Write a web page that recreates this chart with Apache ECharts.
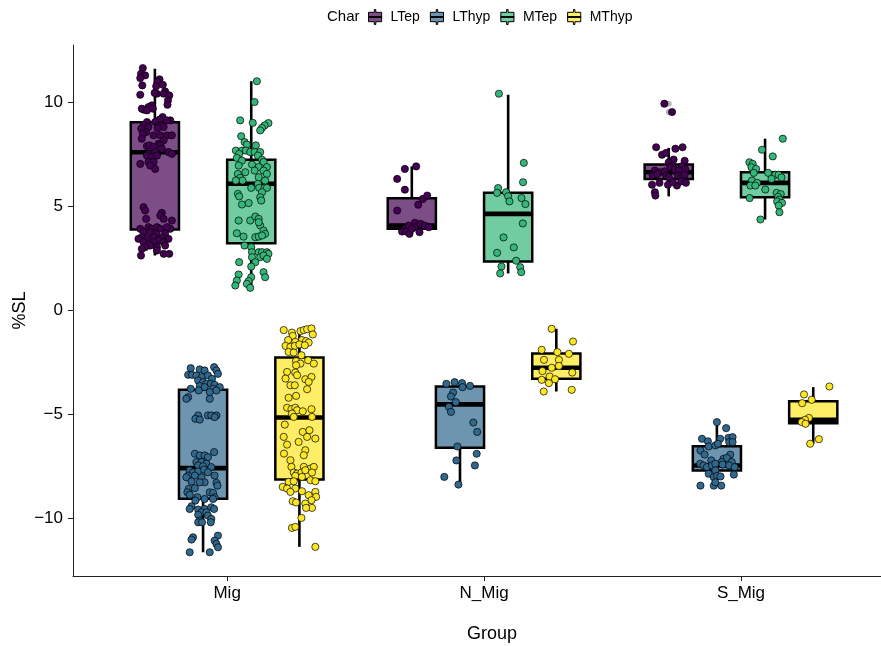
<!DOCTYPE html>
<html>
<head>
<meta charset="utf-8">
<script src="https://cdn.jsdelivr.net/npm/echarts@6/dist/echarts.min.js"></script>
<style>
html,body{margin:0;padding:0;background:#fff;}
#chart{width:881px;height:646px;}
</style>
</head>
<body>
<div id="chart"></div>
<script>
// ---------------- DATA ----------------
const groups = ['Mig', 'N_Mig', 'S_Mig'];
const chars = ['LTep', 'LThyp', 'MTep', 'MThyp'];
const yTicks = [-10, -5, 0, 5, 10];

// box statistics per group: [lower whisker, Q1, median, Q3, upper whisker]
const boxLTep  = [[2.64, 3.89, 7.60, 9.04, 11.61], [3.68, 3.92, 4.08, 5.39, 6.92], [5.48, 6.32, 6.64, 7.01, 7.81]];
const boxLThyp = [[-11.61, -9.04, -7.57, -3.81, -2.72], [-8.36, -6.59, -4.51, -3.65, -3.44], [-8.41, -7.68, -7.44, -6.52, -5.36]];
const boxMTep  = [[1.0, 3.23, 6.09, 7.24, 11.01], [1.78, 2.35, 4.64, 5.65, 10.36], [4.37, 5.44, 6.13, 6.64, 8.25]];
const boxMThyp = [[-11.35, -8.12, -5.14, -2.26, -0.86], [-3.89, -3.28, -2.75, -2.07, -0.88], [-6.40, -5.41, -5.25, -4.36, -3.68]];

// outliers drawn by the boxplot layer: [groupIndex, value]
const outLTep = [[2, 9.93], [2, 9.53]];

// jittered observations: [jitter (category units), %SL]
const ptsMigLTep = [[-0.047,11.64],[-0.054,11.37],[-0.038,11.29],[-0.057,11.16],[-0.049,10.81],[0.018,11.10],[0.010,10.97],[0.005,10.77],[0.031,10.84],[0.040,10.52],[0.034,10.41],[0.056,10.33],[0.051,10.09],[0.049,9.88],[0.008,10.41],[-0.001,10.45],[-0.012,9.85],[-0.025,9.77],[-0.044,9.65],[-0.051,9.69],[-0.031,9.61],[-0.008,9.69],[-0.057,10.36],[0.030,9.29],[0.018,9.17],[0.001,9.05],[-0.031,9.05],[0.060,9.13],[0.047,9.13],[-0.044,8.89],[-0.053,8.73],[-0.025,8.81],[0.014,8.89],[0.027,8.89],[0.034,8.81],[0.010,8.76],[-0.034,8.57],[-0.047,8.49],[0.047,8.41],[0.066,8.41],[-0.005,8.41],[0.021,8.41],[-0.051,8.25],[0.034,8.17],[0.014,8.01],[0.021,7.93],[-0.031,7.89],[-0.021,7.93],[-0.005,7.85],[0.027,7.77],[0.001,7.61],[-0.025,7.52],[-0.031,7.44],[-0.012,7.37],[0.008,7.44],[0.053,7.61],[0.066,7.52],[-0.057,7.04],[-0.025,7.13],[-0.005,7.13],[0.001,6.80],[-0.018,6.96],[-0.044,4.96],[-0.038,4.80],[-0.034,4.40],[0.027,4.69],[0.021,4.56],[0.066,4.32],[0.034,4.40],[-0.057,3.92],[-0.025,4.00],[-0.012,3.92],[0.008,4.00],[0.021,3.92],[0.060,3.92],[0.047,4.00],[-0.044,3.76],[-0.018,3.76],[0.005,3.68],[0.040,3.68],[-0.005,3.52],[0.027,3.52],[-0.051,3.52],[-0.064,3.44],[-0.031,3.44],[0.053,3.44],[0.014,3.36],[-0.044,3.28],[-0.005,3.28],[0.034,3.28],[-0.018,3.12],[0.008,3.04],[-0.038,3.04],[0.040,3.12],[-0.051,2.96],[0.008,2.88],[0.034,2.72],[-0.054,2.64],[0.056,2.72]];
const ptsNMigLTep = [[-0.027,6.80],[0.017,6.92],[-0.057,6.32],[-0.027,5.80],[-0.057,4.80],[0.025,5.08],[0.043,5.36],[0.060,5.52],[-0.025,3.95],[-0.012,4.08],[-0.038,3.79],[-0.022,3.79],[-0.009,3.68],[0.012,4.21],[0.012,4.00],[0.034,4.16],[0.051,4.08],[0.030,3.76],[0.066,4.00],[0.001,3.92]];
const ptsSMigLTep = [[-0.049,7.84],[0.026,7.77],[0.054,7.84],[-0.026,7.48],[-0.010,7.57],[0.019,7.25],[0,7.12],[0.062,7.19],[0.013,6.96],[0.052,6.93],[-0.054,6.72],[-0.036,6.64],[-0.016,6.68],[0.006,6.88],[0.023,6.77],[0.039,6.72],[0.065,6.77],[-0.062,6.48],[-0.044,6.55],[-0.010,6.48],[0,6.40],[0.036,6.48],[0.049,6.40],[0.062,6.52],[-0.065,6.04],[-0.036,6.13],[-0.003,6.04],[0.032,6.00],[0.049,6.20],[0.067,6.13],[-0.054,5.68],[-0.052,5.52],[0.016,6.16],[-0.017,9.93],[0.013,9.53]];

const ptsMigLThyp = [[-0.048,-2.77],[-0.013,-2.83],[0.006,-2.88],[0.043,-2.72],[0.052,-2.88],[-0.058,-3.09],[-0.043,-3.09],[-0.026,-3.12],[-0.004,-3.20],[0.019,-3.12],[0.035,-3.28],[0.058,-3.04],[-0.019,-3.36],[0,-3.44],[0.013,-3.52],[0.030,-3.52],[0.045,-3.57],[0.065,-3.68],[-0.013,-3.63],[0.006,-3.68],[0.039,-3.76],[-0.048,-3.76],[-0.017,-3.84],[0.026,-3.92],[0.052,-3.84],[-0.058,-4.16],[-0.065,-4.24],[0.026,-4.24],[-0.019,-5.04],[-0.030,-5.20],[-0.013,-5.24],[0.019,-5.04],[0.032,-5.04],[0.052,-5.04],[0.045,-5.12],[-0.032,-6.88],[-0.013,-6.96],[0.006,-6.96],[0.019,-7.04],[0.043,-6.80],[-0.026,-7.28],[-0.006,-7.28],[0.013,-7.36],[-0.019,-7.44],[0,-7.48],[0.032,-7.52],[-0.052,-7.68],[-0.039,-7.77],[-0.019,-7.73],[0.004,-7.64],[0.019,-7.77],[-0.058,-7.93],[-0.065,-8.01],[-0.032,-7.93],[-0.006,-8.01],[0.045,-7.93],[0.006,-8.25],[-0.045,-8.21],[-0.013,-8.25],[0.052,-8.28],[0.056,-8.41],[-0.056,-8.57],[-0.032,-8.53],[0.026,-8.73],[0.039,-8.76],[-0.061,-8.73],[-0.052,-8.85],[-0.022,-8.97],[0.045,-8.97],[-0.030,-9.13],[0.006,-9.05],[0.039,-9.05],[-0.045,-9.40],[-0.052,-9.53],[-0.019,-9.56],[0.006,-9.53],[0.032,-9.45],[0.043,-9.53],[-0.006,-9.69],[-0.019,-9.81],[0.013,-9.69],[0.019,-9.85],[0.032,-10.01],[-0.013,-10.09],[-0.019,-10.17],[-0.004,-10.17],[0.030,-10.17],[-0.039,-10.89],[-0.045,-11.00],[0.058,-10.81],[0.045,-11.05],[0.052,-11.21],[0.058,-11.37],[-0.052,-11.61],[0.026,-11.61]];
const ptsNMigLThyp = [[-0.053,-3.52],[-0.021,-3.44],[0.008,-3.49],[0.010,-3.68],[0.039,-3.62],[-0.027,-3.94],[-0.035,-4.13],[-0.016,-4.40],[-0.043,-4.63],[-0.035,-4.87],[0.052,-5.38],[0.067,-5.83],[-0.010,-6.53],[0.065,-6.88],[-0.014,-7.20],[0.058,-7.44],[-0.061,-7.99],[-0.006,-8.36]];
const ptsSMigLThyp = [[0,-5.36],[0.036,-5.65],[-0.058,-6.16],[-0.035,-6.28],[0.013,-6.16],[0.045,-6.12],[0.061,-6.08],[-0.032,-6.53],[-0.006,-6.48],[0.004,-6.40],[0.048,-6.32],[0.061,-6.32],[-0.064,-6.72],[-0.048,-6.92],[0.052,-6.92],[0.026,-7.12],[0.039,-7.08],[-0.022,-7.20],[0.019,-7.28],[0.058,-7.28],[-0.065,-7.36],[-0.052,-7.44],[-0.039,-7.52],[-0.019,-7.44],[-0.006,-7.36],[0.022,-7.40],[0.048,-7.44],[0.069,-7.52],[0.066,-7.88],[-0.032,-7.84],[-0.006,-7.68],[-0.012,-8.01],[0.001,-7.94],[0.014,-7.97],[-0.064,-8.41],[-0.012,-8.41],[0.017,-8.41],[-0.006,-8.25]];

const ptsMigMTep = [[0.022,11.01],[0.013,10.01],[-0.043,9.13],[0.006,9.01],[0.067,9.00],[0.052,8.89],[0.042,8.77],[0.035,8.65],[-0.039,8.37],[-0.026,8.09],[-0.017,7.97],[0.018,7.93],[-0.060,7.68],[-0.036,7.68],[-0.021,7.68],[-0.004,7.61],[0.013,7.61],[0.035,7.61],[0.026,7.44],[-0.047,7.52],[-0.056,7.33],[0.042,7.24],[-0.036,7.20],[0.048,7.13],[0.003,7.01],[0.061,6.89],[0.029,6.89],[-0.049,6.96],[0.013,6.72],[-0.023,6.64],[0.048,6.72],[0.061,6.56],[-0.052,6.56],[-0.043,6.37],[0.029,6.40],[-0.034,6.24],[-0.060,6.24],[0.054,6.24],[0.026,6.08],[0,5.89],[0.031,5.89],[0.052,5.89],[0.061,5.89],[-0.052,5.60],[-0.047,5.48],[0.042,5.68],[0.035,5.44],[-0.036,5.09],[-0.010,5.16],[0.039,5.28],[-0.049,4.32],[-0.004,4.32],[0.016,4.51],[0.029,4.40],[0.035,4.08],[0.029,4.24],[0.048,3.84],[0.054,3.68],[-0.056,3.71],[-0.030,3.55],[0.016,3.52],[0.029,3.55],[0.042,3.60],[-0.026,3.12],[0,3.04],[0.003,2.80],[0.029,2.80],[0.042,2.80],[0.061,2.80],[0.067,2.72],[0.035,2.56],[0.048,2.64],[0.003,2.56],[0.061,2.48],[0.016,2.32],[-0.047,2.32],[0,2.11],[0.048,1.84],[0.054,1.60],[-0.049,1.73],[0,1.60],[-0.056,1.44],[-0.010,1.41],[-0.017,1.28],[-0.004,1.09],[-0.062,1.20]];
const ptsNMigMTep = [[-0.036,10.41],[0.061,7.09],[0.058,6.16],[-0.039,5.88],[-0.043,5.65],[-0.008,5.68],[0,5.49],[0.005,5.24],[0.052,5.40],[0.067,5.11],[0.057,4.18],[-0.018,3.51],[0.022,3.03],[-0.043,2.77],[0.031,2.39],[-0.026,2.11],[0.047,2.08],[-0.031,1.78],[0.051,1.84]];
const ptsSMigMTep = [[0.069,8.25],[-0.012,7.72],[0.030,7.40],[-0.061,7.12],[-0.048,7.04],[-0.053,6.88],[-0.035,6.80],[-0.044,6.61],[0.012,6.61],[0.040,6.52],[0.053,6.52],[0.064,6.39],[0.025,6.32],[-0.051,6.24],[-0.031,6.13],[-0.057,6.00],[-0.038,6.00],[0.001,5.81],[0.045,5.65],[0.061,5.59],[0.051,5.46],[0.056,5.33],[0.047,5.24],[0.066,5.17],[-0.060,5.40],[0.053,5.04],[0.056,4.72],[-0.018,4.37]];

const ptsMigMThyp = [[-0.061,-0.94],[-0.029,-1.06],[0.004,-0.99],[0.017,-0.94],[0.030,-0.90],[0.047,-0.86],[0.052,-1.15],[-0.026,-1.22],[-0.044,-1.42],[-0.016,-1.51],[0.010,-1.42],[0.026,-1.47],[0.036,-1.54],[-0.054,-1.70],[-0.035,-1.75],[-0.018,-1.70],[0,-1.63],[0.021,-1.67],[-0.042,-1.99],[-0.022,-2.02],[0.008,-2.15],[0.034,-2.39],[0.056,-2.55],[-0.013,-2.43],[0.004,-2.55],[-0.013,-2.63],[-0.048,-2.95],[-0.016,-2.98],[-0.054,-3.27],[-0.009,-3.11],[0.023,-3.30],[0.047,-3.19],[0.036,-3.43],[-0.035,-3.59],[-0.018,-3.59],[0.030,-3.78],[-0.042,-4.19],[-0.013,-4.10],[-0.048,-4.67],[-0.031,-4.74],[-0.016,-4.67],[-0.009,-4.79],[0.013,-4.84],[0.047,-4.74],[-0.029,-4.95],[-0.022,-5.11],[0.049,-5.11],[-0.057,-5.48],[0.013,-5.83],[0.039,-5.75],[0.030,-6.07],[0.062,-6.15],[-0.061,-6.07],[-0.003,-6.31],[-0.048,-6.44],[0.023,-6.71],[0.017,-6.95],[-0.060,-6.87],[-0.035,-7.19],[-0.031,-7.51],[0.017,-7.51],[0.043,-7.59],[0.056,-7.51],[-0.022,-7.78],[-0.009,-7.83],[0.008,-7.78],[0.023,-7.67],[0.049,-7.78],[-0.016,-7.94],[0.010,-7.99],[0.043,-8.15],[0.062,-8.20],[-0.042,-8.23],[-0.022,-8.20],[-0.065,-8.47],[-0.048,-8.55],[-0.016,-8.55],[-0.035,-8.71],[0.010,-8.68],[0.062,-8.71],[0.036,-8.87],[0.065,-8.95],[0.047,-9.11],[-0.026,-9.16],[-0.013,-9.22],[0.023,-9.27],[0.049,-9.48],[0.026,-9.48],[0.008,-9.96],[-0.029,-10.44],[-0.016,-10.39],[0.062,-11.35]];
const ptsNMigMThyp = [[-0.018,-0.88],[0.065,-1.49],[-0.057,-1.89],[0.004,-2.00],[0.049,-2.08],[-0.048,-2.37],[0.010,-2.37],[0.010,-2.66],[-0.018,-2.75],[-0.054,-2.91],[0.062,-2.98],[-0.026,-3.17],[-0.005,-3.30],[-0.057,-3.33],[-0.029,-3.49],[-0.049,-3.89],[0.060,-3.81]];
const ptsSMigMThyp = [[-0.036,-4.03],[-0.043,-4.45],[-0.006,-4.29],[-0.017,-5.16],[-0.032,-5.25],[-0.045,-5.36],[-0.030,-5.44],[-0.012,-6.40],[0.022,-6.18],[0.063,-3.65]];

// ---------------- STYLE / LAYOUT ----------------
const lineColors = ['#440154', '#31688E', '#35B779', '#FDE725'];
const fillColors = ['rgba(68,1,84,0.7)', 'rgba(49,104,142,0.7)', 'rgba(53,183,121,0.7)', 'rgba(253,231,37,0.7)'];
const DODGE = 0.75;
const SLOT = DODGE / chars.length;        // width of one dodged box
const FONT = '"Liberation Sans", Arial, Helvetica, sans-serif';

const boxes = [boxLTep, boxLThyp, boxMTep, boxMThyp];
const points = [
  [ptsMigLTep, ptsNMigLTep, ptsSMigLTep],
  [ptsMigLThyp, ptsNMigLThyp, ptsSMigLThyp],
  [ptsMigMTep, ptsNMigMTep, ptsSMigMTep],
  [ptsMigMThyp, ptsNMigMThyp, ptsSMigMThyp]
];
const outliers = [outLTep, [], [], []];

function center(gi, ci) { return gi + 1 - DODGE / 2 + SLOT * (ci + 0.5); }

function renderBox(params, api) {
  const x = api.value(0);
  const lo = api.value(1), q1 = api.value(2), md = api.value(3), q3 = api.value(4), hi = api.value(5);
  const hw = SLOT / 2;
  const tl = api.coord([x - hw, q3]);
  const br = api.coord([x + hw, q1]);
  const pHi = api.coord([x, hi]), pQ3 = api.coord([x, q3]), pQ1 = api.coord([x, q1]), pLo = api.coord([x, lo]);
  const mL = api.coord([x - hw, md]), mR = api.coord([x + hw, md]);
  return {
    type: 'group',
    children: [
      { type: 'line', shape: { x1: pHi[0], y1: pHi[1], x2: pQ3[0], y2: pQ3[1] }, style: { stroke: '#000', lineWidth: 2.6 } },
      { type: 'line', shape: { x1: pQ1[0], y1: pQ1[1], x2: pLo[0], y2: pLo[1] }, style: { stroke: '#000', lineWidth: 2.6 } },
      { type: 'rect', shape: { x: tl[0], y: tl[1], width: br[0] - tl[0], height: br[1] - tl[1] },
        style: { fill: api.visual('color'), stroke: '#000', lineWidth: 2.5 } },
      { type: 'line', shape: { x1: mL[0], y1: mL[1], x2: mR[0], y2: mR[1] }, style: { stroke: '#000', lineWidth: 4.6 } }
    ]
  };
}

const series = [];
chars.forEach((c, ci) => {
  series.push({
    name: c,
    type: 'custom',
    renderItem: renderBox,
    itemStyle: { color: fillColors[ci] },
    encode: { x: 0, y: [1, 2, 3, 4, 5] },
    data: boxes[ci].map((b, gi) => [center(gi, ci)].concat(b)),
    z: 2,
    silent: true
  });
});
chars.forEach((c, ci) => {
  if (outliers[ci].length) {
    series.push({
      name: c,
      type: 'scatter',
      symbolSize: 6,
      itemStyle: { color: 'rgba(0,0,0,0.35)' },
      data: outliers[ci].map(o => [center(o[0], ci), o[1]]),
      z: 3,
      silent: true
    });
  }
});
chars.forEach((c, ci) => {
  const data = [];
  points[ci].forEach((arr, gi) => {
    arr.forEach(p => data.push([center(gi, ci) + p[0], p[1]]));
  });
  series.push({
    name: c,
    type: 'scatter',
    symbol: 'circle',
    symbolSize: 7.2,
    itemStyle: { color: lineColors[ci], borderColor: '#000', borderWidth: 0.7, opacity: 1 },
    data: data,
    z: 4,
    silent: true
  });
});

const legendIcon = 'path://M6.2,0H7.8V3H14V13H7.8V16H6.2V13H0V3H6.2Z M0,7.5H14V8.5H0Z';

const chart = echarts.init(document.getElementById('chart'), null, { renderer: 'canvas' });
chart.setOption({
  animation: false,
  backgroundColor: '#fff',
  textStyle: { fontFamily: FONT },
  grid: { left: 73, right: 0, top: 45, bottom: 70, containLabel: false, outerBoundsMode: 'none' },
  legend: {
    left: 363, top: 4,
    itemWidth: 15, itemHeight: 15, itemGap: 10,
    textStyle: { fontSize: 14, color: '#000', fontFamily: FONT, padding: [0, 0, 0, 3] },
    data: chars.map((c, ci) => ({
      name: c, icon: legendIcon,
      itemStyle: { color: fillColors[ci], borderColor: '#000', borderWidth: 1 }
    }))
  },
  graphic: [
    { type: 'text', left: 327, top: 9, style: { text: 'Char', fontSize: 15, fill: '#000', fontFamily: FONT } }
  ],
  xAxis: {
    type: 'value', min: 0.4, max: 3.545,
    name: 'Group', nameLocation: 'middle', nameGap: 49,
    nameTextStyle: { fontSize: 18, color: '#000', fontFamily: FONT, padding: [0, 0, 0, 30] },
    axisLine: { show: true, onZero: false, lineStyle: { color: '#222', width: 1 } },
    axisTick: { show: true, length: 5, customValues: [1, 2, 3], lineStyle: { color: '#222' } },
    axisLabel: { customValues: [1, 2, 3], formatter: v => groups[Math.round(v) - 1], fontSize: 17, color: '#000', margin: 9 },
    splitLine: { show: false }
  },
  yAxis: {
    type: 'value', min: -12.75, max: 12.75,
    name: '%SL', nameLocation: 'middle', nameGap: 44, nameRotate: 90, nameMoveOverlap: false,
    nameTextStyle: { fontSize: 18, color: '#000', fontFamily: FONT },
    axisLine: { show: true, onZero: false, lineStyle: { color: '#222', width: 1 } },
    axisTick: { show: true, length: 5, customValues: yTicks, lineStyle: { color: '#222' } },
    axisLabel: { customValues: yTicks, formatter: v => (v < 0 ? '\u2212' + Math.abs(v) : String(v)), fontSize: 17, color: '#000', margin: 10 },
    splitLine: { show: false }
  },
  series: series
});
</script>
</body>
</html>
